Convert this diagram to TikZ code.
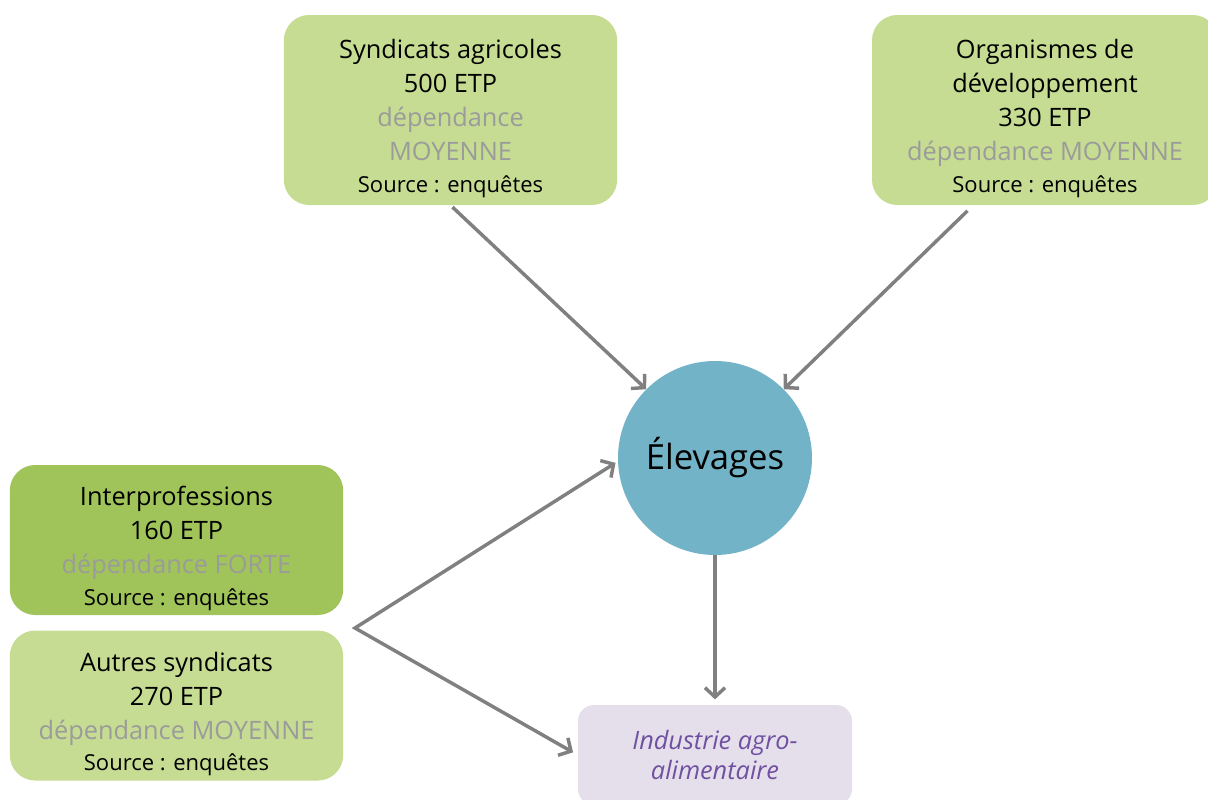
\documentclass[tikz,border=0pt]{standalone}
\usepackage{fontspec}
\setmainfont{Open Sans}
\usepackage{tikz}
\usetikzlibrary{arrows.meta,positioning}

\definecolor{vertclair}{RGB}{197,220,146}
\definecolor{vertfonce}{RGB}{160,196,90}
\definecolor{bleuelev}{RGB}{114,179,199}
\definecolor{lavande}{RGB}{229,223,236}
\definecolor{violetind}{RGB}{112,80,160}
\definecolor{grisdep}{RGB}{155,155,155}
\definecolor{grisfleche}{RGB}{128,128,128}

\newcommand{\dep}[1]{{\color{grisdep}#1}}
\newcommand{\src}{{\fontsize{16.5}{20}\selectfont Source : enquêtes}}
\newcommand{\haut}{\rule{0pt}{27pt}}

\begin{document}
\begin{tikzpicture}[
x=0.75pt,y=-0.75pt,
box/.style={rounded corners=19pt,align=center,inner sep=0pt,font=\fontsize{19}{25.5}\selectfont},
acteur/.style={box,fill=vertclair,minimum width=250pt,minimum height=142.5pt},
petit/.style={box,fill=vertclair,minimum width=250pt,minimum height=112.5pt},
arr/.style={-{Straight Barb[length=7pt,width=15pt]},line width=2.6pt,draw=grisfleche},
node distance=11.25pt
]
\useasboundingbox (0,0) rectangle (1208,800);
\node[acteur] (synd) at (450.5,110) {\haut Syndicats agricoles\\500 ETP\\\dep{dépendance}\\\dep{MOYENNE}\\[-2pt]\src};
\node[acteur,minimum width=259.5pt] (org) at (1045,110) {\haut Organismes de\\développement\\330 ETP\\\dep{dépendance MOYENNE}\\[-2pt]\src};
\node[circle,fill=bleuelev,minimum size=145.5pt,inner sep=0pt,font=\fontsize{26}{30}\selectfont] (elev) at (715,458) {Élevages};
\node[petit,fill=vertfonce] (inter) at (176.5,540) {\haut Interprofessions\\160 ETP\\\dep{dépendance FORTE}\\[-2pt]\src};
\node[petit,below=of inter] (autres) {\haut Autres syndicats\\270 ETP\\\dep{dépendance MOYENNE}\\[-2pt]\src};
\node[box,rounded corners=12pt,fill=lavande,minimum width=205.5pt,minimum height=75pt,text=violetind,font=\fontsize{19}{22.5}\selectfont\itshape] (ind) at (715,755) {Industrie agro-\\alimentaire};
\coordinate (fork) at (355,628);

\draw[arr,shorten <=2pt] (synd.south) -- (elev.135);
\draw[arr,shorten <=6pt] (org.233) -- (elev.45);
\draw[arr,shorten >=4pt] (elev.south) -- (ind.north);
\draw[arr,{Straight Barb[length=7pt,width=15pt]}-{Straight Barb[length=7pt,width=15pt]},shorten <=2pt,shorten >=4pt] (elev.182) -- (fork) -- (ind.west);
\end{tikzpicture}
\end{document}
